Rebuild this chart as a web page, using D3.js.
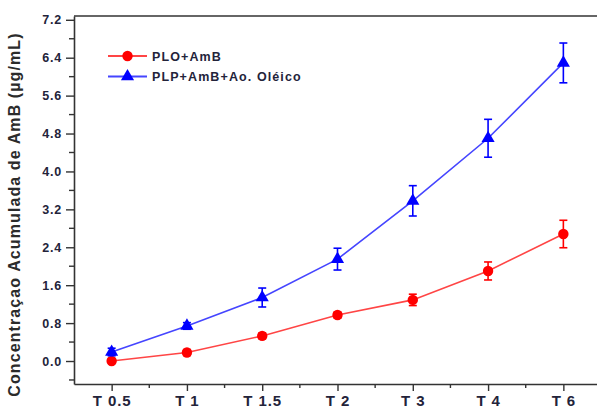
<!DOCTYPE html>
<html>
<head>
<meta charset="utf-8">
<script src="https://cdn.jsdelivr.net/npm/d3@7"></script>
<style>
  body { margin: 0; background: #fff; }
  svg { display: block; font-family: "Liberation Sans", Arial, sans-serif; }
</style>
</head>
<body>
<div id="chart"></div>
<script>
const categories = ['T 0.5', 'T 1', 'T 1.5', 'T 2', 'T 3', 'T 4', 'T 6']
const ploValues = [0.0, 0.18, 0.53, 0.97, 1.29, 1.90, 2.68]
const ploErrors = [0.04, 0.06, 0.06, 0.06, 0.12, 0.19, 0.29]
const plpValues = [0.19, 0.74, 1.34, 2.15, 3.38, 4.70, 6.29]
const plpErrors = [0.08, 0.07, 0.20, 0.23, 0.32, 0.40, 0.42]
const yTicks = [0.0, 0.8, 1.6, 2.4, 3.2, 4.0, 4.8, 5.6, 6.4, 7.2]
const yMinorTicks = [-0.4, 0.4, 1.2, 2.0, 2.8, 3.6, 4.4, 5.2, 6.0, 6.8]
const seriesNames = ['PLO+AmB', 'PLP+AmB+Ao. Oléico']

const WIDTH = 597
const HEIGHT = 410
const margin = { left: 74, right: 601, top: 16, bottom: 384 }

const svg = d3.select('#chart')
  .append('svg')
    .attr('width', WIDTH)
    .attr('height', HEIGHT)

const x = d3.scalePoint()
  .domain(categories)
  .range([margin.left, margin.right])
  .padding(0.5)

const y = d3.scaleLinear()
  .domain([-0.485, 7.28])
  .range([margin.bottom, margin.top])

const axisColor = '#333'
const labelColor = '#23233a'

// frame: top line
svg.append('line')
  .attr('x1', margin.left).attr('x2', WIDTH)
  .attr('y1', margin.top).attr('y2', margin.top)
  .attr('stroke', axisColor)
  .attr('stroke-width', 1.6)

// y axis
const yAxis = svg.append('g')
  .attr('transform', `translate(${margin.left},0)`)
  .call(d3.axisLeft(y).tickValues(yTicks).tickSize(8).tickSizeOuter(0).tickFormat(d3.format('.1f')))

yAxis.select('.domain').attr('stroke', axisColor).attr('stroke-width', 1.6)
yAxis.selectAll('.tick line').attr('stroke', axisColor).attr('stroke-width', 1.4)
yAxis.selectAll('.tick text')
  .attr('x', -12)
  .attr('fill', labelColor)
  .style('font-size', '12.5px')
  .style('font-weight', 'bold')
  .style('letter-spacing', '0.8px')

svg.append('g')
  .selectAll('line')
  .data(yMinorTicks)
  .join('line')
    .attr('x1', margin.left - 5).attr('x2', margin.left)
    .attr('y1', (d) => y(d)).attr('y2', (d) => y(d))
    .attr('stroke', axisColor)
    .attr('stroke-width', 1.4)

// x axis
const xAxis = svg.append('g')
  .attr('transform', `translate(0,${margin.bottom})`)
  .call(d3.axisBottom(x).tickSize(7).tickSizeOuter(0))

xAxis.select('.domain').attr('stroke', axisColor).attr('stroke-width', 1.6)
xAxis.selectAll('.tick line').attr('stroke', axisColor).attr('stroke-width', 1.4)
xAxis.selectAll('.tick text')
  .attr('y', 11)
  .attr('fill', labelColor)
  .style('font-size', '15px')
  .style('font-weight', 'bold')
  .style('letter-spacing', '0.9px')

// minor x ticks between categories
const mids = categories.slice(1).map((c, i) => (x(categories[i]) + x(c)) / 2)
svg.append('g')
  .selectAll('line')
  .data(mids)
  .join('line')
    .attr('x1', (d) => d).attr('x2', (d) => d)
    .attr('y1', margin.bottom).attr('y2', margin.bottom + 4)
    .attr('stroke', axisColor)
    .attr('stroke-width', 1.4)

// y label
svg.append('text')
  .attr('transform', `translate(20,${(32 + 397) / 2}) rotate(-90)`)
  .attr('text-anchor', 'middle')
  .attr('fill', '#2b2b2b')
  .style('font-size', '16px')
  .style('font-weight', 'bold')
  .style('letter-spacing', '1.1px')
  .text('Concentraçao Acumulada de AmB (µg/mL)')

const series = [
  { name: seriesNames[0], values: ploValues, errors: ploErrors, line: '#ff4545', color: '#ff0000', shape: d3.symbolCircle, size: 85 },
  { name: seriesNames[1], values: plpValues, errors: plpErrors, line: '#4545ff', color: '#0000ff', shape: d3.symbolTriangle, size: 75 }
]

const line = d3.line()
  .x((d) => x(d.cat))
  .y((d) => y(d.v))

series.forEach((s) => {
  const pts = categories.map((cat, i) => ({ cat, v: s.values[i], e: s.errors[i] }))

  svg.append('path')
    .datum(pts)
    .attr('fill', 'none')
    .attr('stroke', s.line)
    .attr('stroke-width', 1.6)
    .attr('d', line)

  const err = svg.append('g')
    .attr('stroke', s.color)
    .attr('stroke-width', 1.6)
    .selectAll('g')
    .data(pts)
    .join('g')

  err.append('line')
    .attr('x1', (d) => x(d.cat)).attr('x2', (d) => x(d.cat))
    .attr('y1', (d) => y(d.v - d.e)).attr('y2', (d) => y(d.v + d.e))
  err.append('line')
    .attr('x1', (d) => x(d.cat) - 4).attr('x2', (d) => x(d.cat) + 4)
    .attr('y1', (d) => y(d.v - d.e)).attr('y2', (d) => y(d.v - d.e))
  err.append('line')
    .attr('x1', (d) => x(d.cat) - 4).attr('x2', (d) => x(d.cat) + 4)
    .attr('y1', (d) => y(d.v + d.e)).attr('y2', (d) => y(d.v + d.e))

  svg.append('g')
    .selectAll('path')
    .data(pts)
    .join('path')
      .attr('transform', (d) => `translate(${x(d.cat)},${y(d.v)})`)
      .attr('d', d3.symbol().type(s.shape).size(s.size))
      .attr('fill', s.color)
})

// legend
const legend = svg.append('g')
  .selectAll('g')
  .data(series)
  .join('g')
    .attr('transform', (d, i) => `translate(108,${56 + i * 20.5})`)

legend.append('line')
  .attr('x1', 0).attr('x2', 39)
  .attr('stroke', (d) => d.line)
  .attr('stroke-width', 1.8)

legend.append('path')
  .attr('transform', 'translate(19.5,0)')
  .attr('d', (d) => d3.symbol().type(d.shape).size(d.size)())
  .attr('fill', (d) => d.color)

legend.append('text')
  .attr('x', 44)
  .attr('dy', '0.36em')
  .attr('fill', '#23233a')
  .style('font-size', '12.5px')
  .style('font-weight', 'bold')
  .style('letter-spacing', '1.1px')
  .text((d) => d.name)
</script>
</body>
</html>
